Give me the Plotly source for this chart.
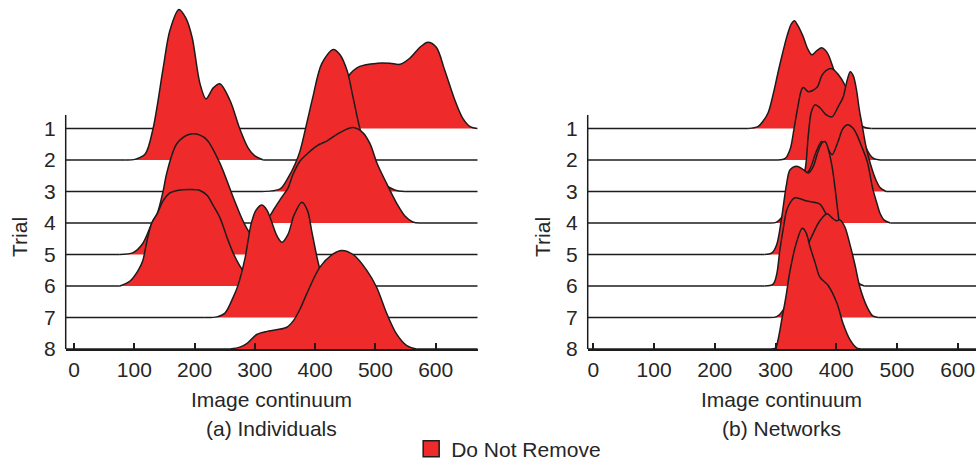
import plotly.graph_objects as go

# ---------------- data ----------------
trial_labels = ["1", "2", "3", "4", "5", "6", "7", "8"]
x_ticks = [0, 100, 200, 300, 400, 500, 600]

# (a) Individuals: image-continuum positions and ridge heights (in row units)
ind1_x = [400, 411, 425, 441, 455, 474, 503, 524, 541, 557, 574, 587, 601, 615, 632, 645, 657, 669]
ind1_h = [0, 0.07, 0.32, 1.05, 1.66, 1.97, 2.07, 2.07, 2.04, 2.23, 2.58, 2.74, 2.58, 1.85, 0.89, 0.32, 0.06, 0]
ind2_x = [85, 101, 118, 131, 148, 159, 174, 186, 196, 209, 219, 231, 242, 259, 275, 289, 300, 314]
ind2_h = [0, 0.02, 0.19, 0.99, 2.93, 4.11, 4.78, 4.49, 3.89, 2.42, 1.94, 2.29, 2.42, 1.88, 0.99, 0.38, 0.13, 0]
ind3_x = [312, 328, 342, 355, 367, 375, 387, 396, 411, 430, 441, 453, 463, 474, 486, 499, 513, 532, 549]
ind3_h = [0, 0.02, 0.08, 0.43, 0.88, 1.29, 2.24, 2.98, 4.06, 4.51, 4.35, 3.84, 2.98, 2.02, 1.29, 0.65, 0.27, 0.05, 0]
ind4_x = [300, 312, 322, 333, 345, 355, 363, 375, 387, 403, 420, 441, 463, 479, 491, 503, 519, 536, 549, 562, 574]
ind4_h = [0, 0.03, 0.16, 0.48, 0.83, 1.11, 1.53, 1.97, 2.2, 2.45, 2.61, 2.87, 3.03, 2.87, 2.52, 1.88, 1.24, 0.6, 0.22, 0.03, 0]
ind5_x = [76, 98, 114, 131, 138, 148, 154, 171, 192, 209, 221, 242, 264, 280, 292, 309, 325, 342]
ind5_h = [0, 0.06, 0.35, 1.08, 1.3, 2.03, 2.6, 3.53, 3.82, 3.79, 3.63, 2.9, 1.82, 1.08, 0.67, 0.32, 0.1, 0]
ind6_x = [76, 93, 106, 114, 121, 129, 138, 148, 159, 171, 192, 209, 221, 231, 242, 254, 264, 275, 287, 300, 317]
ind6_h = [0, 0.16, 0.48, 0.8, 1.43, 2.0, 2.29, 2.71, 2.96, 3.03, 3.06, 3.03, 2.87, 2.55, 2.17, 1.53, 1.05, 0.64, 0.32, 0.1, 0]
ind7_x = [217, 237, 250, 264, 272, 284, 294, 302, 312, 320, 328, 337, 345, 355, 365, 378, 387, 395, 405, 416, 430, 445, 461]
ind7_h = [0, 0.02, 0.13, 0.64, 1.02, 1.91, 2.99, 3.41, 3.57, 3.41, 3.03, 2.58, 2.39, 2.64, 3.25, 3.66, 3.41, 2.68, 1.75, 1.02, 0.45, 0.13, 0]
ind8_x = [259, 275, 286, 303, 320, 336, 353, 364, 375, 386, 408, 430, 444, 463, 486, 502, 519, 535, 552, 568]
ind8_h = [0, 0.06, 0.16, 0.46, 0.56, 0.61, 0.69, 0.9, 1.27, 1.75, 2.6, 3.02, 3.13, 3.0, 2.49, 1.96, 1.12, 0.48, 0.11, 0]

# (b) Networks
net1_x = [255, 271, 279, 288, 296, 304, 311, 319, 326, 331, 337, 345, 353, 360, 368, 376, 385, 393, 401, 413, 425, 435, 447, 458]
net1_h = [0, 0.06, 0.22, 0.51, 1.08, 1.77, 2.34, 2.94, 3.32, 3.42, 3.26, 2.94, 2.53, 2.34, 2.47, 2.56, 2.41, 2.03, 1.55, 0.98, 0.47, 0.19, 0.03, 0]
net2_x = [304, 316, 324, 330, 335, 343, 346, 354, 368, 376, 383, 393, 403, 415, 426, 439, 451, 460, 472]
net2_h = [0, 0.05, 0.34, 0.94, 1.5, 2.24, 2.3, 2.17, 2.3, 2.67, 2.84, 2.9, 2.72, 2.35, 1.73, 0.88, 0.31, 0.07, 0]
net3_x = [324, 336, 342, 349, 354, 359, 365, 373, 383, 393, 403, 411, 418, 423, 428, 433, 438, 443, 449, 456, 465, 472, 482]
net3_h = [0, 0.06, 0.25, 0.73, 1.8, 2.53, 2.75, 2.66, 2.44, 2.37, 2.69, 2.98, 3.54, 3.8, 3.67, 3.26, 2.59, 2.06, 1.42, 0.89, 0.38, 0.13, 0]
net4_x = [291, 301, 309, 319, 332, 345, 357, 367, 376, 383, 393, 403, 411, 419, 428, 434, 442, 451, 460, 467, 472, 479, 489]
net4_h = [0, 0.02, 0.15, 0.53, 1.0, 1.38, 1.73, 2.27, 2.59, 2.46, 2.17, 2.59, 3.0, 3.12, 3.0, 2.8, 2.42, 1.95, 1.09, 0.62, 0.31, 0.09, 0]
net5_x = [282, 294, 302, 310, 318, 324, 335, 344, 354, 362, 370, 377, 382, 386, 393, 398, 405, 410, 416, 426]
net5_h = [0, 0.05, 0.32, 1.16, 2.22, 2.69, 2.8, 2.72, 2.59, 2.79, 3.27, 3.55, 3.58, 3.4, 2.8, 2.1, 0.99, 0.4, 0.1, 0]
net6_x = [282, 296, 302, 307, 313, 318, 324, 332, 351, 365, 373, 382, 392, 401, 414, 426, 435, 446]
net6_h = [0, 0.06, 0.38, 1.12, 1.85, 2.38, 2.64, 2.8, 2.7, 2.65, 2.6, 2.33, 1.9, 1.4, 0.85, 0.4, 0.12, 0]
net7_x = [291, 302, 312, 324, 335, 349, 360, 373, 385, 393, 400, 406, 414, 423, 431, 439, 451, 460, 469]
net7_h = [0, 0.03, 0.22, 0.79, 1.49, 2.12, 2.59, 3.07, 3.29, 3.16, 3.07, 3.1, 2.88, 2.28, 1.65, 0.95, 0.32, 0.05, 0]
net8_x = [291, 300, 304, 311, 317, 324, 334, 344, 350, 357, 365, 373, 386, 401, 411, 423, 434, 442]
net8_h = [0, 0.03, 0.28, 1.01, 1.65, 2.5, 3.35, 3.83, 3.7, 3.23, 2.75, 2.28, 2.03, 1.46, 0.82, 0.28, 0.03, 0]

ind_ridges = [(ind1_x, ind1_h), (ind2_x, ind2_h), (ind3_x, ind3_h), (ind4_x, ind4_h),
              (ind5_x, ind5_h), (ind6_x, ind6_h), (ind7_x, ind7_h), (ind8_x, ind8_h)]
net_ridges = [(net1_x, net1_h), (net2_x, net2_h), (net3_x, net3_h), (net4_x, net4_h),
              (net5_x, net5_h), (net6_x, net6_h), (net7_x, net7_h), (net8_x, net8_h)]

# ---------------- style ----------------
FONT = "Liberation Sans, Arial, Helvetica, sans-serif"
FS = 21
RED = "#EE2A2A"
INK = "#1c1c1c"
TXT = "#262626"
W, H = 979, 461
M_T, M_B = 5, 112
ROW_PX = 31.5
Y_TOP = (H - M_T - M_B) / ROW_PX
AXIS_TOP = len(trial_labels) - 1 + 0.43

X_RANGE_A = [-13.8, 669.7]
X_RANGE_B = [-9.2, 630.0]
DOM_A = [65.7 / W, 477.7 / W]
DOM_B = [587.7 / W, 976.0 / W]

fig = go.Figure()


def add_panel(ridges, xr, xa, ya):
    n = len(ridges)
    for k, (xs, hs) in enumerate(ridges):
        base = n - 1 - k
        # flat (zero-density) parts of the row, straight lines
        fig.add_trace(go.Scatter(
            x=[xr[0], xs[0], None, xs[-1], xr[1]], y=[base, base, None, base, base],
            mode="lines", line=dict(color=INK, width=1.5),
            xaxis=xa, yaxis=ya, hoverinfo="skip", showlegend=False))
        # invisible baseline under the ridge, to fill against
        fig.add_trace(go.Scatter(
            x=[xs[0], xs[-1]], y=[base, base], mode="lines",
            line=dict(width=0, color="rgba(0,0,0,0)"),
            xaxis=xa, yaxis=ya, hoverinfo="skip", showlegend=False))
        # the ridge itself
        fig.add_trace(go.Scatter(
            x=list(xs), y=[base + h for h in hs],
            mode="lines", line=dict(color=INK, width=1.5, shape="spline", smoothing=0.9),
            fill="tonexty", fillcolor=RED,
            xaxis=xa, yaxis=ya, hoverinfo="skip", showlegend=False))


add_panel(ind_ridges, X_RANGE_A, "x", "y")
add_panel(net_ridges, X_RANGE_B, "x2", "y2")

# legend entry
fig.add_trace(go.Scatter(
    x=[None], y=[None], mode="markers", name="Do Not Remove",
    marker=dict(symbol="square", size=16, color=RED, line=dict(color=INK, width=1.5)),
    showlegend=True))

xax = dict(showline=True, linecolor=INK, linewidth=1.5, ticks="inside", ticklen=6,
           tickwidth=1.5, tickcolor=INK, tickvals=x_ticks, showgrid=False, zeroline=False,
           tickfont=dict(family=FONT, size=FS, color=TXT), ticklabelstandoff=1,
           ticklabeloverflow="allow")
yax = dict(range=[0, Y_TOP], showline=False, ticks="", showgrid=False, zeroline=False,
           tickvals=list(range(len(trial_labels) - 1, -1, -1)), ticktext=trial_labels,
           tickfont=dict(family=FONT, size=FS, color=TXT), ticklabelstandoff=9)

fig.update_layout(
    width=W, height=H,
    margin=dict(l=0, r=0, t=M_T, b=M_B, autoexpand=False),
    paper_bgcolor="white", plot_bgcolor="white",
    font=dict(family=FONT, size=FS, color=TXT),
    xaxis=dict(domain=DOM_A, range=X_RANGE_A, anchor="y", **xax),
    yaxis=dict(domain=[0, 1], anchor="x", **yax),
    xaxis2=dict(domain=DOM_B, range=X_RANGE_B, anchor="y2", **xax),
    yaxis2=dict(domain=[0, 1], anchor="x2", **yax),
    showlegend=True,
    legend=dict(orientation="h", x=0.420, xanchor="left", y=(349 - 449) / 344, yanchor="middle",
                font=dict(family=FONT, size=FS, color=TXT), bgcolor="rgba(0,0,0,0)",
                itemsizing="trace"),
)

# y-axis lines (span only the trial rows)
for xr, yr in [("x domain", "y"), ("x2 domain", "y2")]:
    fig.add_shape(type="line", xref=xr, yref=yr, x0=0, x1=0, y0=0, y1=AXIS_TOP,
                  line=dict(color=INK, width=1.5))


def py(pix):
    return (H - M_B - pix) / (H - M_T - M_B)


ann = [
    dict(text="Trial", x=19.5 / W, y=py(237.5), textangle=-90),
    dict(text="Trial", x=542.5 / W, y=py(237.5), textangle=-90),
    dict(text="Image continuum", x=sum(DOM_A) / 2, y=py(399)),
    dict(text="Image continuum", x=sum(DOM_B) / 2, y=py(399)),
    dict(text="(a) Individuals", x=sum(DOM_A) / 2, y=py(428)),
    dict(text="(b) Networks", x=sum(DOM_B) / 2, y=py(428)),
]
for a in ann:
    fig.add_annotation(xref="paper", yref="paper", showarrow=False, xanchor="center", yanchor="middle",
                       font=dict(family=FONT, size=FS, color=TXT), **a)

fig.write_html("out.html")
